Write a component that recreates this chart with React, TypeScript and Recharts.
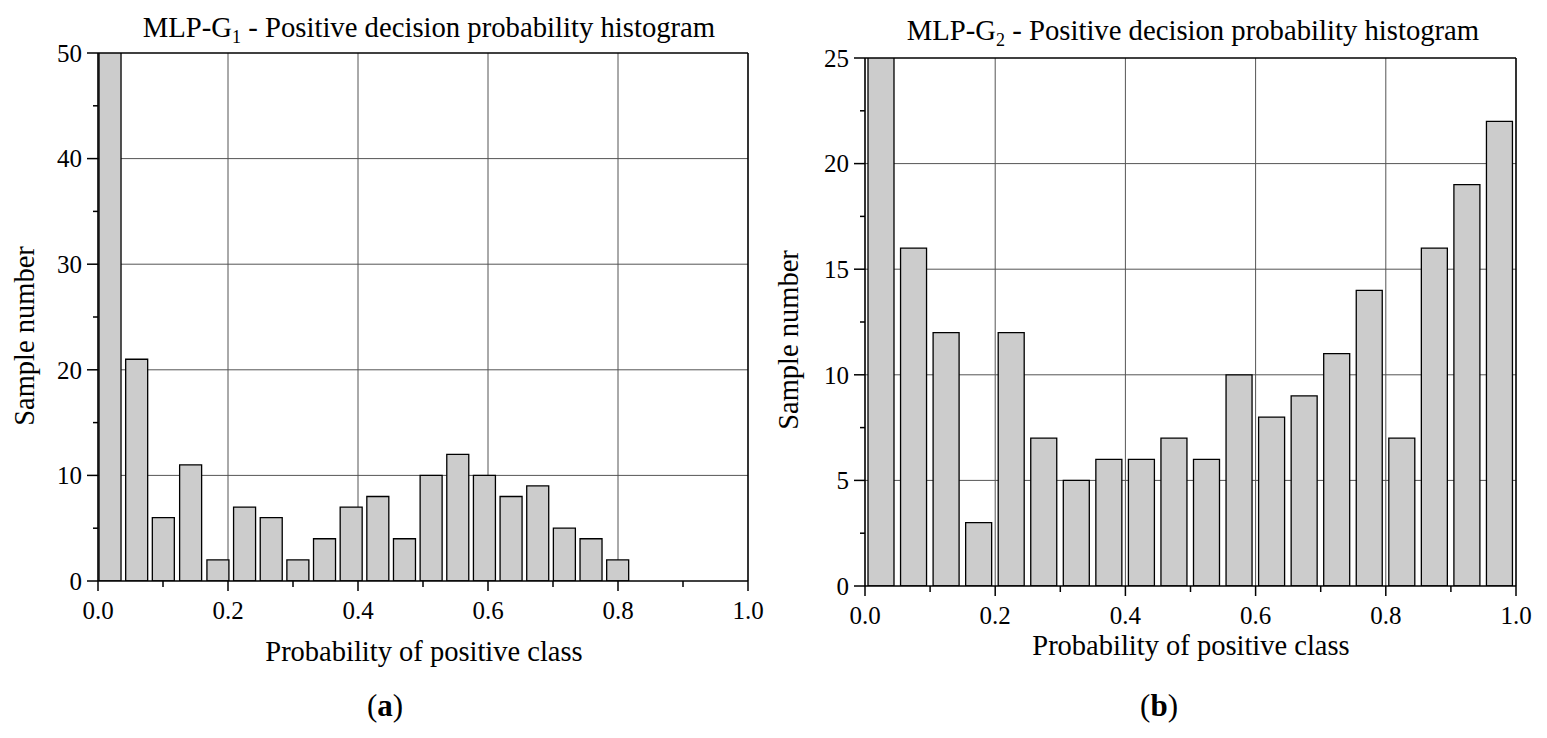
import React from 'react';
import { BarChart, Bar, XAxis, YAxis, CartesianGrid, ReferenceLine } from 'recharts';

// (a) MLP-G1: bin centres and counts (first bin runs off the top of the axis)
const binsA = [0.019, 0.06, 0.101, 0.143, 0.185, 0.226, 0.267, 0.308, 0.349, 0.39, 0.431, 0.472, 0.513, 0.554, 0.595, 0.636, 0.677, 0.718, 0.759, 0.8];
const countsA = [60, 21, 6, 11, 2, 7, 6, 2, 4, 7, 8, 4, 10, 12, 10, 8, 9, 5, 4, 2];

// (b) MLP-G2
const binsB = [0.025, 0.075, 0.125, 0.175, 0.225, 0.275, 0.325, 0.375, 0.425, 0.475, 0.525, 0.575, 0.625, 0.675, 0.725, 0.775, 0.825, 0.875, 0.925, 0.975];
const countsB = [30, 16, 12, 3, 12, 7, 5, 6, 6, 7, 6, 10, 8, 9, 11, 14, 7, 16, 19, 22];

const xTicks = [0, 0.1, 0.2, 0.3, 0.4, 0.5, 0.6, 0.7, 0.8, 0.9, 1.0];
const xGrid = [0.2, 0.4, 0.6, 0.8];
const yTicksA = [0, 5, 10, 15, 20, 25, 30, 35, 40, 45, 50];
const yGridA = [10, 20, 30, 40];
const yTicksB = [0, 2.5, 5, 7.5, 10, 12.5, 15, 17.5, 20, 22.5, 25];
const yGridB = [5, 10, 15, 20];

const FONT = '"Liberation Serif", "Times New Roman", serif';
const CHART_H = 690;

const dataA = binsA.map((x, i) => ({ x, count: countsA[i] }));
const dataB = binsB.map((x, i) => ({ x, count: countsB[i] }));

const XTick = (props: any) => {
    const { x, y, payload } = props;
    const v = payload.value;
    const major = Math.round(v * 10) % 2 === 0;
    return (
        <g>
            <line x1={x} x2={x} y1={y} y2={y + (major ? 10 : 6)} stroke="#000" strokeWidth={1.5} />
            {major && (
                <text x={x} y={y + 38} textAnchor="middle" fontSize={25} fontFamily={FONT} fill="#000">
                    {v.toFixed(1)}
                </text>
            )}
        </g>
    );
};

const makeYTick = (step: number) => (props: any) => {
    const { x, y, payload } = props;
    const v = payload.value;
    const major = v % step === 0;
    return (
        <g>
            <line x1={x} x2={x - (major ? 11 : 5)} y1={y} y2={y} stroke="#000" strokeWidth={1.5} />
            {major && (
                <text x={x - 16} y={y} dy="0.35em" textAnchor="end" fontSize={25} fontFamily={FONT} fill="#000">
                    {v}
                </text>
            )}
        </g>
    );
};

const YTickA = makeYTick(10);
const YTickB = makeYTick(5);

interface HistProps {
    data: { x: number; count: number }[];
    yMax: number;
    yTicks: number[];
    yGrid: number[];
    yTick: (p: any) => React.ReactElement;
    width: number;
    margin: { top: number; right: number; bottom: number; left: number };
    barSize: number;
}

function Histogram({ data, yMax, yTicks, yGrid, yTick, width, margin, barSize }: HistProps) {
    return (
        <BarChart width={width} height={CHART_H} data={data} margin={margin}>
            <CartesianGrid horizontalValues={yGrid} verticalValues={xGrid} stroke="#555" strokeWidth={1} />
            <XAxis
                dataKey="x"
                type="number"
                domain={[0, 1]}
                ticks={xTicks}
                interval={0}
                tick={XTick}
                tickLine={false}
                tickSize={0}
                tickMargin={0}
                height={30}
                axisLine={{ stroke: '#000', strokeWidth: 1.6 }}
            />
            <YAxis
                type="number"
                domain={[0, yMax]}
                allowDataOverflow
                ticks={yTicks}
                interval={0}
                tick={yTick}
                tickLine={false}
                tickSize={0}
                tickMargin={0}
                width={60}
                axisLine={{ stroke: '#000', strokeWidth: 1.6 }}
            />
            <Bar dataKey="count" fill="#cccccc" stroke="#000" strokeWidth={1.3} barSize={barSize} isAnimationActive={false} />
            <ReferenceLine y={yMax} stroke="#000" strokeWidth={1.6} />
            <ReferenceLine x={1} stroke="#000" strokeWidth={1.6} />
        </BarChart>
    );
}

const textStyle = { fontFamily: FONT, fill: '#000' };

export default function App() {
    return (
        <div style={{ position: 'absolute', left: 0, top: 0, width: 1547, height: 738, background: '#fff', overflow: 'hidden' }}>
            <div style={{ position: 'absolute', left: 0, top: 0 }}>
                <Histogram
                    data={dataA}
                    yMax={50}
                    yTicks={yTicksA}
                    yGrid={yGridA}
                    yTick={YTickA}
                    width={770}
                    margin={{ top: 53, right: 22, bottom: CHART_H - 581 - 30, left: 38 }}
                    barSize={22}
                />
            </div>
            <div style={{ position: 'absolute', left: 780, top: 0 }}>
                <Histogram
                    data={dataB}
                    yMax={25}
                    yTicks={yTicksB}
                    yGrid={yGridB}
                    yTick={YTickB}
                    width={760}
                    margin={{ top: 58, right: 24, bottom: CHART_H - 586 - 30, left: 25 }}
                    barSize={26}
                />
            </div>
            <svg width={1547} height={738} style={{ position: 'absolute', left: 0, top: 0, pointerEvents: 'none' }}>
                <text x={429} y={37} textAnchor="middle" fontSize={28.7} {...textStyle}>
                    MLP-G<tspan fontSize={18} dy={6}>1</tspan>
                    <tspan dy={-6}> - Positive decision probability histogram</tspan>
                </text>
                <text x={1193} y={40} textAnchor="middle" fontSize={28.7} {...textStyle}>
                    MLP-G<tspan fontSize={18} dy={6}>2</tspan>
                    <tspan dy={-6}> - Positive decision probability histogram</tspan>
                </text>
                <text x={34} y={336} textAnchor="middle" fontSize={28.5} transform="rotate(-90 34 336)" {...textStyle}>
                    Sample number
                </text>
                <text x={798} y={340} textAnchor="middle" fontSize={28.5} transform="rotate(-90 798 340)" {...textStyle}>
                    Sample number
                </text>
                <text x={424} y={661} textAnchor="middle" fontSize={28.5} {...textStyle}>
                    Probability of positive class
                </text>
                <text x={1191} y={655} textAnchor="middle" fontSize={28.5} {...textStyle}>
                    Probability of positive class
                </text>
                <text x={385} y={716} textAnchor="middle" fontSize={31} {...textStyle}>
                    (<tspan fontWeight="bold">a</tspan>)
                </text>
                <text x={1159} y={716} textAnchor="middle" fontSize={31} {...textStyle}>
                    (<tspan fontWeight="bold">b</tspan>)
                </text>
            </svg>
        </div>
    );
}
